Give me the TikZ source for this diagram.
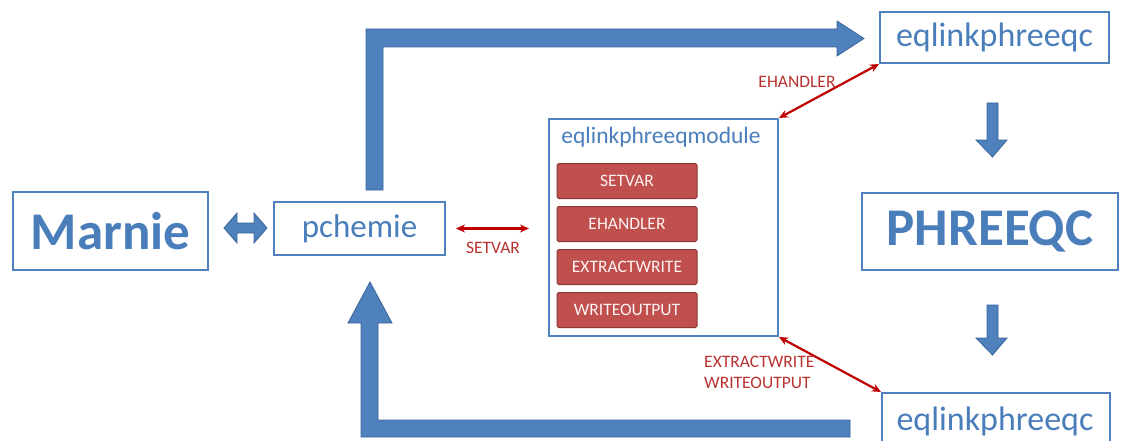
\documentclass[tikz,border=0pt]{standalone}
\usepackage{fontspec}
\setmainfont{Carlito}
\usetikzlibrary{arrows.meta}
\definecolor{bblue}{HTML}{4F81BD}
\definecolor{bdark}{HTML}{3A6599}
\definecolor{btext}{HTML}{4A7EBB}
\definecolor{rfill}{HTML}{C0504D}
\definecolor{rdark}{HTML}{8C3836}
\definecolor{rline}{HTML}{C00000}
\definecolor{rtext}{HTML}{B83330}
\tikzset{
  box/.style={draw=bblue, line width=2pt, fill=white, text=btext, inner sep=0pt},
  bigtxt/.style={font=\fontsize{53}{60}\selectfont\bfseries},
  midtxt/.style={font=\fontsize{34}{40}\selectfont},
  btn/.style={draw=rdark, line width=1pt, fill=rfill, rounded corners=1.5pt,
    minimum width=140pt, minimum height=35pt, inner sep=0pt, text=white!95!red,
    font=\fontsize{17.5}{19}\selectfont},
  blockarrow/.style={fill=bblue, draw=bdark, line width=0.8pt, line join=miter},
  redarrow/.style={draw=rline, line width=2.2pt, {Stealth[length=9pt,width=8pt]}-{Stealth[length=9pt,width=8pt]}},
  redlabel/.style={text=rtext, font=\fontsize{17.5}{21}\selectfont, inner sep=0pt}
}
\begin{document}
\begin{tikzpicture}[x=1pt,y=-1pt]
\useasboundingbox (0,0) rectangle (1121,441);
\fill[white] (0,0) rectangle (1121,441);
% boxes
\node[box, bigtxt, minimum width=195pt, minimum height=78pt] (marnie) at (110.5,231) {Marnie};
\node[box, font=\fontsize{33}{40}\selectfont, minimum width=171pt, minimum height=53pt] (pchemie) at (359.5,228.5) {pchemie};
\node[box, midtxt, minimum width=229pt, minimum height=51pt] (eqtop) at (994.5,37.5) {eqlinkphreeqc};
\node[box, bigtxt, minimum width=256pt, minimum height=77pt] (phreeqc) at (990,231.5) {PHREEQC};
\node[box, midtxt, minimum width=228pt, minimum height=70pt, anchor=north west] (eqbot) at (881,392) {};
\node[text=btext, midtxt, inner sep=0pt] (eqbottxt) at (995,421) {eqlinkphreeqc};
\node[box, minimum width=229pt, minimum height=217pt, anchor=north west] (module) at (548,118) {};
\node[text=btext, font=\fontsize{23.5}{28}\selectfont, inner sep=0pt] (modtitle) at (661,137) {eqlinkphreeqmodule};
% buttons
\node[btn] (b1) at (627,181) {SETVAR};
\node[btn] (b2) at (627,224) {EHANDLER};
\node[btn] (b3) at (627,267) {EXTRACTWRITE};
\node[btn] (b4) at (627,310) {WRITEOUTPUT};
% block arrows
\draw[blockarrow] (366,190) -- (366,29) -- (837,29) -- (837,21) -- (864,38.5) -- (837,56) -- (837,47) -- (383,47) -- (383,190) -- cycle;
\draw[blockarrow] (850,420) -- (850,437) -- (361,437) -- (361,323) -- (348,323) -- (370,282) -- (392,323) -- (378,323) -- (378,420) -- cycle;
\draw[blockarrow] (224,228) -- (237,213) -- (237,223) -- (254,223) -- (254,213) -- (267,228) -- (254,243) -- (254,233) -- (237,233) -- (237,243) -- cycle;
\draw[blockarrow] (987,103) -- (998,103) -- (998,140) -- (1007,140) -- (992.5,157) -- (976,140) -- (987,140) -- cycle;
\draw[blockarrow] (987,305) -- (998,305) -- (998,338) -- (1007,338) -- (992.5,355) -- (976,338) -- (987,338) -- cycle;
% red connectors
\draw[redarrow] ([xshift=10pt]pchemie.east) -- ([xshift=-19pt]module.west |- pchemie.east);
\draw[redarrow] (module.north east) -- (eqtop.south west);
\draw[redarrow] (module.south east) -- (eqbot.north west);
% labels
\node[redlabel] (lsetvar) at (493,248) {SETVAR};
\node[redlabel] (lehandler) at (797,82) {EHANDLER};
\node[redlabel, align=left, anchor=west] (lextract) at (704,372.5) {EXTRACTWRITE\\WRITEOUTPUT};
\end{tikzpicture}
\end{document}
